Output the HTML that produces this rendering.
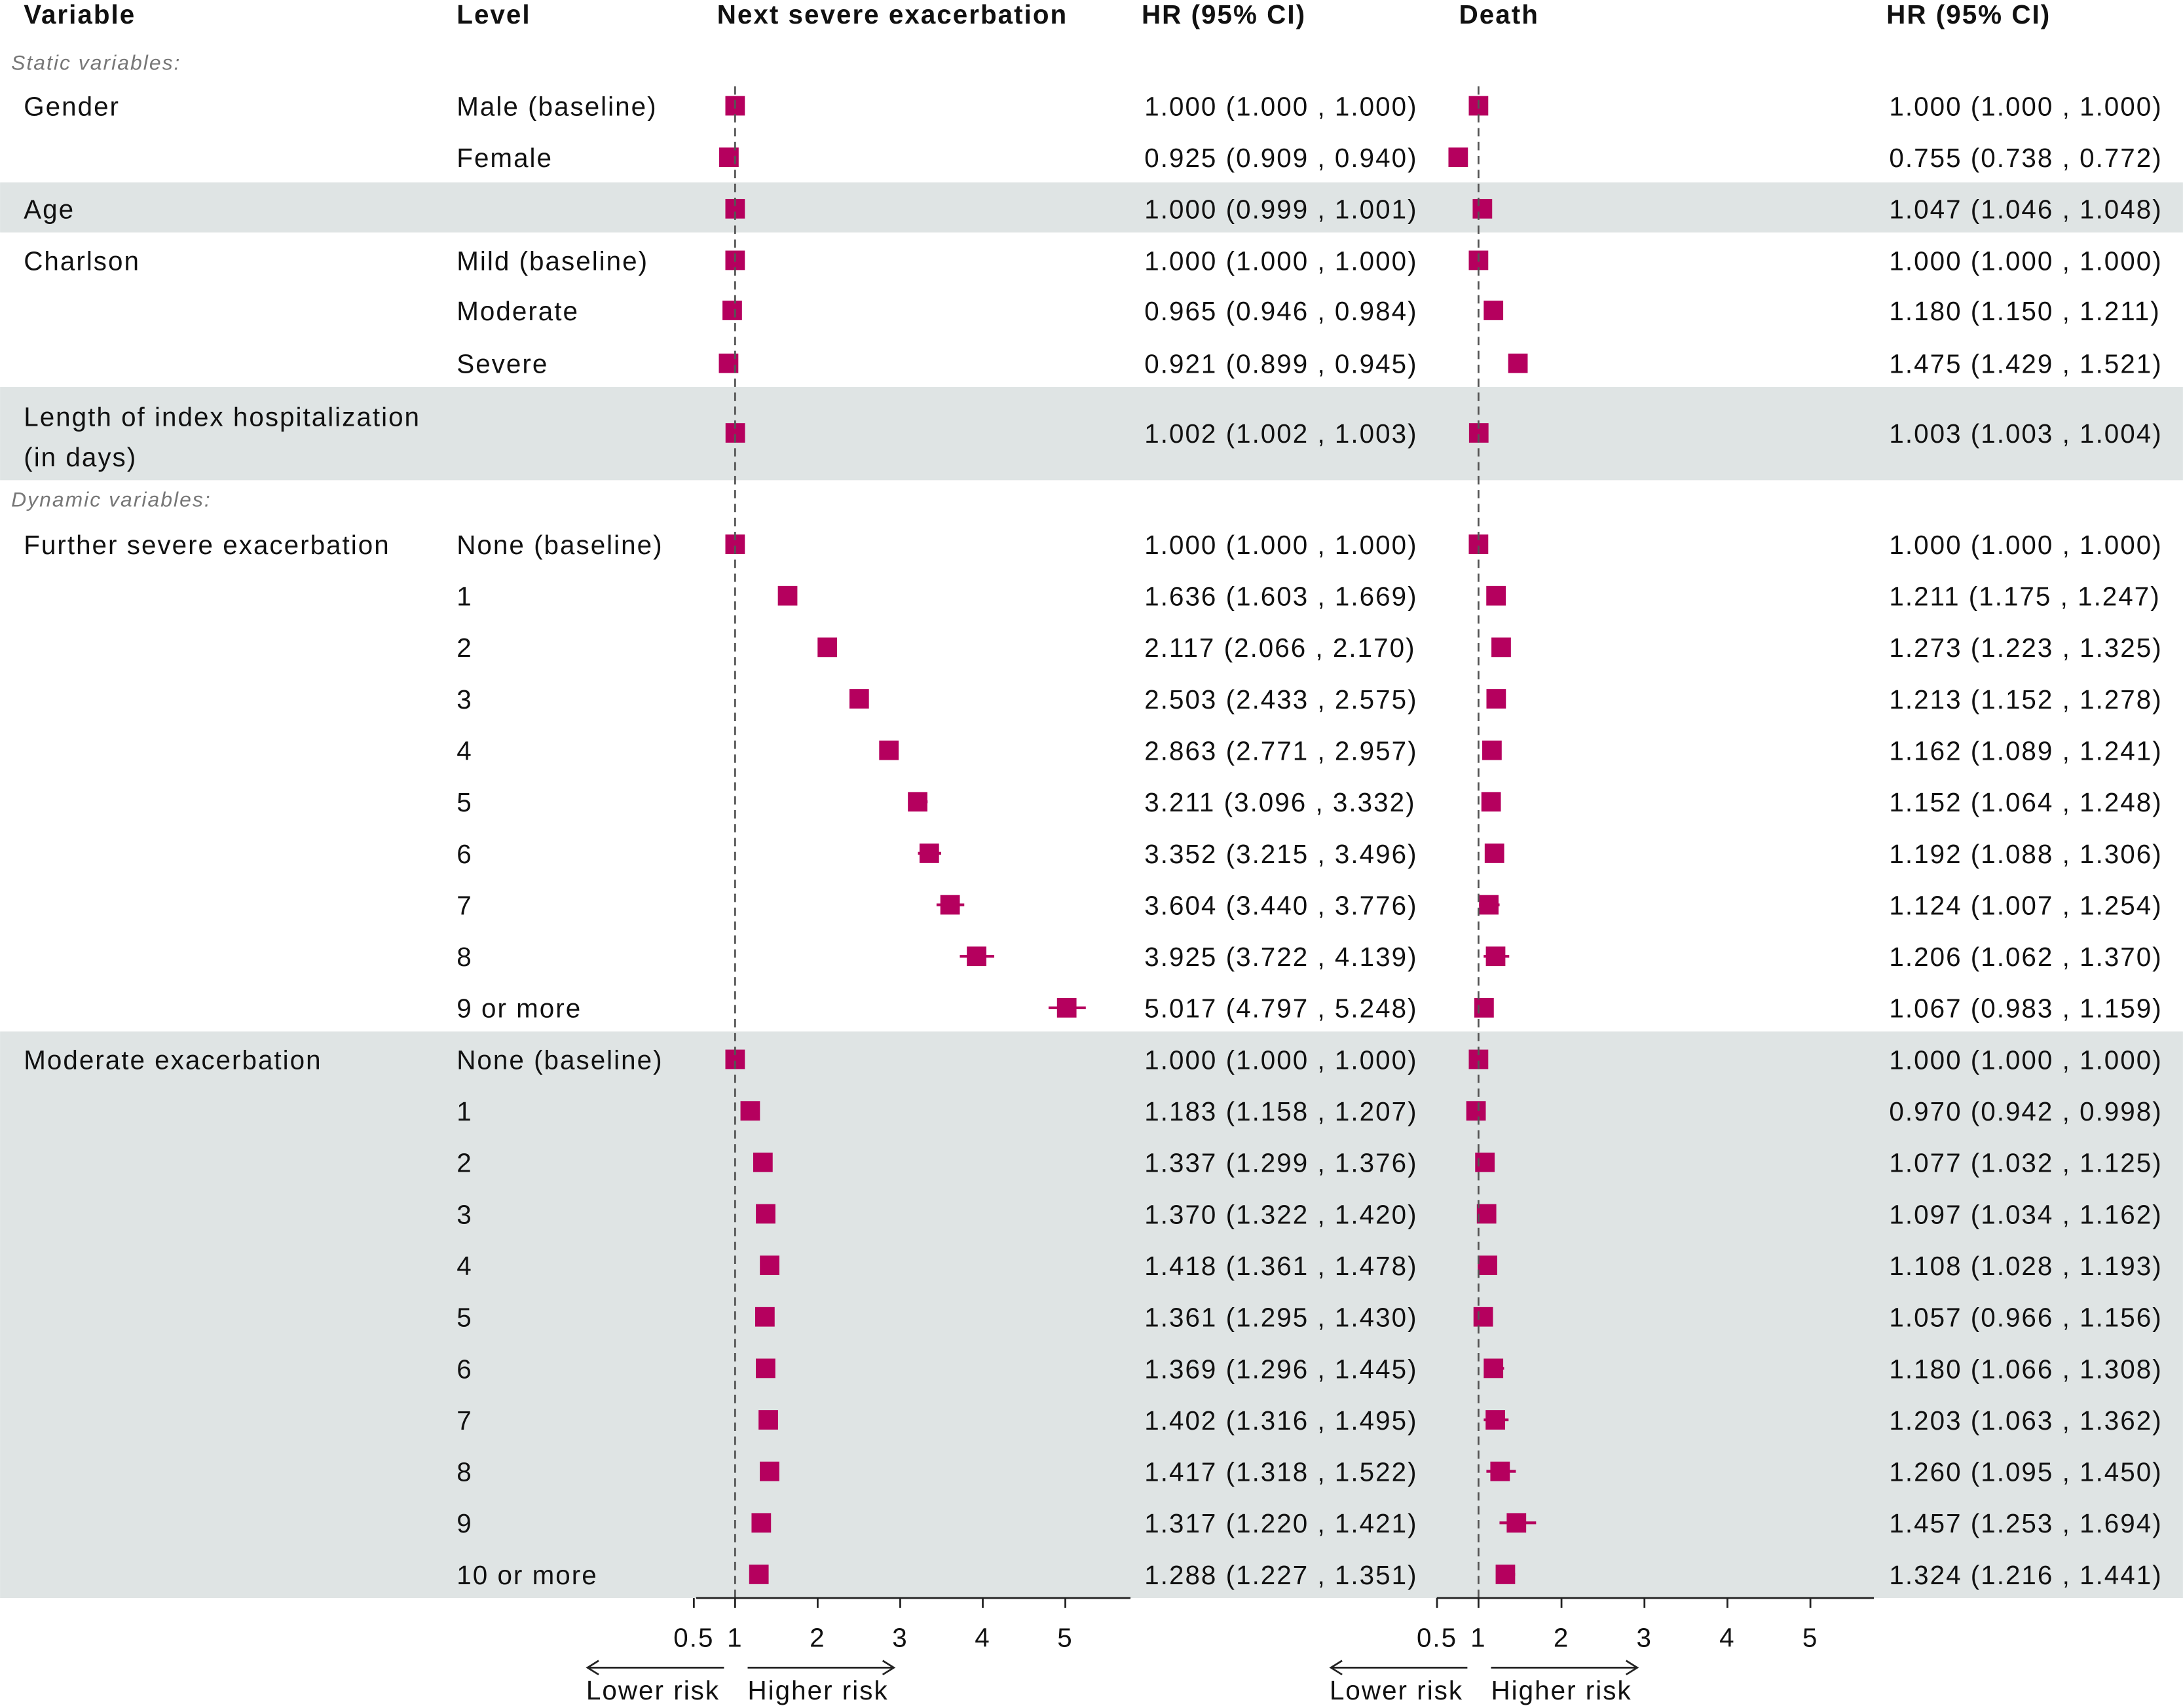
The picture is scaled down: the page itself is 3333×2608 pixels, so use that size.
<!DOCTYPE html>
<html><head><meta charset="utf-8"><style>
html,body{margin:0;padding:0;background:#fff}
svg{display:block}
text{font-family:"Liberation Sans",Arial,sans-serif;fill:#111;letter-spacing:0.95px}
</style></head><body>
<svg id="chart" width="3333" height="2608" viewBox="0 0 1568 1227" xmlns="http://www.w3.org/2000/svg">
<g id="bands"></g>
<g id="headers" font-size="19" font-weight="bold">
<text x="17" y="17" font-weight="bold">Variable</text>
<text x="328" y="17" font-weight="bold">Level</text>
<text x="515" y="17" font-weight="bold">Next severe exacerbation</text>
<text x="820" y="17" font-weight="bold">HR (95% CI)</text>
<text x="1048" y="17" font-weight="bold">Death</text>
<text x="1355" y="17" font-weight="bold">HR (95% CI)</text>
</g>
<text x="8" y="50" font-size="15" font-style="italic" style="fill:#777">Static variables:</text>
<text x="8" y="364" font-size="15" font-style="italic" style="fill:#777">Dynamic variables:</text>
<g id="rows"></g>
<g id="axes"></g>
</svg>
<script>
const rowY=[76,113,150,187,223,261,311,391,428,465,502,539,576,613,650,687,724,761,798,835,872,909,946,983,1020,1057,1094,1131];
const variables=["Gender","","Age","Charlson","","","Length of index hospitalization|(in days)","Further severe exacerbation","","","","","","","","","","Moderate exacerbation","","","","","","","","","","",""];
const levels=["Male (baseline)","Female","","Mild (baseline)","Moderate","Severe","","None (baseline)","1","2","3","4","5","6","7","8","9 or more","None (baseline)","1","2","3","4","5","6","7","8","9","10 or more"];
const severeHR=[1.000,0.925,1.000,1.000,0.965,0.921,1.002,1.000,1.636,2.117,2.503,2.863,3.211,3.352,3.604,3.925,5.017,1.000,1.183,1.337,1.370,1.418,1.361,1.369,1.402,1.417,1.317,1.288];
const severeLo=[1.000,0.909,0.999,1.000,0.946,0.899,1.002,1.000,1.603,2.066,2.433,2.771,3.096,3.215,3.440,3.722,4.797,1.000,1.158,1.299,1.322,1.361,1.295,1.296,1.316,1.318,1.220,1.227];
const severeHi=[1.000,0.940,1.001,1.000,0.984,0.945,1.003,1.000,1.669,2.170,2.575,2.957,3.332,3.496,3.776,4.139,5.248,1.000,1.207,1.376,1.420,1.478,1.430,1.445,1.495,1.522,1.421,1.351];
const deathHR=[1.000,0.755,1.047,1.000,1.180,1.475,1.003,1.000,1.211,1.273,1.213,1.162,1.152,1.192,1.124,1.206,1.067,1.000,0.970,1.077,1.097,1.108,1.057,1.180,1.203,1.260,1.457,1.324];
const deathLo=[1.000,0.738,1.046,1.000,1.150,1.429,1.003,1.000,1.175,1.223,1.152,1.089,1.064,1.088,1.007,1.062,0.983,1.000,0.942,1.032,1.034,1.028,0.966,1.066,1.063,1.095,1.253,1.216];
const deathHi=[1.000,0.772,1.048,1.000,1.211,1.521,1.004,1.000,1.247,1.325,1.278,1.241,1.248,1.306,1.254,1.370,1.159,1.000,0.998,1.125,1.162,1.193,1.156,1.308,1.362,1.450,1.694,1.441];
const tickVals=[0.5,1,2,3,4,5];
const tickLabels=["0.5","1","2","3","4","5"];

const NS="http://www.w3.org/2000/svg";
function mk(tag,attrs,parent){const e=document.createElementNS(NS,tag);for(const k in attrs)e.setAttribute(k,attrs[k]);parent.appendChild(e);return e;}
const xL=v=>528+(v-1)*59.3;
const xR=v=>1062+(v-1)*59.6;
const bands=document.getElementById('bands'),rows=document.getElementById('rows'),axes=document.getElementById('axes');
[[131,167],[278,345],[741,1148]].forEach((b,i)=>{
 const r=mk('rect',{x:0,y:b[0],width:1568,height:b[1]-b[0],fill:'#dfe4e4'},bands);
 
 
});
function fmt(v){return v.toFixed(3);}
[xL(1),xR(1)].forEach(x=>{
 const l=mk('line',{x1:x,x2:x,y1:62,y2:1148,stroke:'#555','stroke-width':1.3,'stroke-dasharray':'6,4'},axes);
 
 
});
rowY.forEach((y,i)=>{
 const v=variables[i];
 if(v){
  const parts=v.split('|');
  parts.forEach((p,j)=>{
   const t=mk('text',{x:17,y:(parts.length>1?y-5+j*29:y+7),'font-size':19},rows);t.textContent=p;
   
   
  });
 }
 if(levels[i]){const t=mk('text',{x:328,y:y+7,'font-size':19},rows);t.textContent=levels[i];
  
  }
 const t1=mk('text',{x:822,y:y+7,'font-size':19},rows);t1.textContent=fmt(severeHR[i])+' ('+fmt(severeLo[i])+' , '+fmt(severeHi[i])+')';
 
 
 const t2=mk('text',{x:1357,y:y+7,'font-size':19},rows);t2.textContent=fmt(deathHR[i])+' ('+fmt(deathLo[i])+' , '+fmt(deathHi[i])+')';
 
 
 [[xL,severeHR,severeLo,severeHi,'severe'],[xR,deathHR,deathLo,deathHi,'death']].forEach(([sx,h,lo,hi,nm])=>{
  const ci=mk('line',{x1:sx(lo[i]),x2:sx(hi[i]),y1:y,y2:y,stroke:'#b5005e','stroke-width':2},rows);
  
  
  const s=mk('rect',{x:sx(h[i])-7,y:y-7,width:14,height:14,fill:'#b5005e'},rows);
  
  
 });
});
[[xL,500,812],[xR,1032,1346]].forEach(([sx,a,b])=>{
 const ax=mk('line',{x1:a,x2:b,y1:1148,y2:1148,stroke:'#222','stroke-width':1.3},axes);
 
 
 tickVals.forEach((v,k)=>{
  const tk=mk('line',{x1:sx(v),x2:sx(v),y1:1148,y2:1155,stroke:'#222','stroke-width':1.3},axes);
  
  
  const tl=mk('text',{x:sx(v),y:1183,'font-size':19,'text-anchor':'middle'},axes);tl.textContent=tickLabels[k];
  
  
 });
 const o=sx(1);
 const la=mk('path',{d:`M${o-8} 1198 H${o-106} M${o-98} 1193 L${o-106} 1198 L${o-98} 1203`,stroke:'#222','stroke-width':1.3,fill:'none'},axes);
 
 
 const ra=mk('path',{d:`M${o+9} 1198 H${o+114} M${o+106} 1193 L${o+114} 1198 L${o+106} 1203`,stroke:'#222','stroke-width':1.3,fill:'none'},axes);
 
 
 const lt=mk('text',{x:o-107,y:1221,'font-size':19},axes);lt.textContent='Lower risk';
 
 
 const ht=mk('text',{x:o+9,y:1221,'font-size':19},axes);ht.textContent='Higher risk';
 
 
});
</script>
</body></html>
